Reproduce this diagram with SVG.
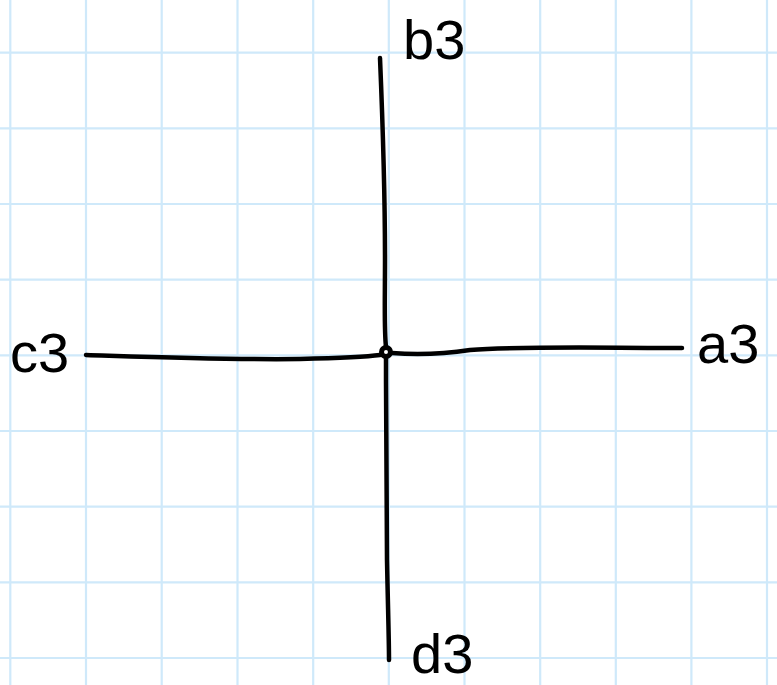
<svg xmlns="http://www.w3.org/2000/svg" width="777" height="685" viewBox="0 0 777 685">
<style>
.grid line{stroke:#cfe9fa;stroke-width:2.2}
.edge{fill:none;stroke:#000;stroke-width:4.5;stroke-linecap:round;stroke-linejoin:round}
.lbl{font-family:"Liberation Sans","DejaVu Sans",sans-serif;font-size:56px;fill:#000}
</style>
<rect width="777" height="685" fill="#fff"/>
<g class="grid">
<line x1="10.3" y1="0" x2="10.3" y2="685"/>
<line x1="86" y1="0" x2="86" y2="685"/>
<line x1="161.7" y1="0" x2="161.7" y2="685"/>
<line x1="237.5" y1="0" x2="237.5" y2="685"/>
<line x1="313.2" y1="0" x2="313.2" y2="685"/>
<line x1="388.8" y1="0" x2="388.8" y2="685"/>
<line x1="464.5" y1="0" x2="464.5" y2="685"/>
<line x1="540.2" y1="0" x2="540.2" y2="685"/>
<line x1="615.8" y1="0" x2="615.8" y2="685"/>
<line x1="691.4" y1="0" x2="691.4" y2="685"/>
<line x1="767" y1="0" x2="767" y2="685"/>
<line x1="0" y1="52.7" x2="777" y2="52.7"/>
<line x1="0" y1="128.3" x2="777" y2="128.3"/>
<line x1="0" y1="204" x2="777" y2="204"/>
<line x1="0" y1="279.7" x2="777" y2="279.7"/>
<line x1="0" y1="355.3" x2="777" y2="355.3"/>
<line x1="0" y1="431" x2="777" y2="431"/>
<line x1="0" y1="506.7" x2="777" y2="506.7"/>
<line x1="0" y1="582.3" x2="777" y2="582.3"/>
<line x1="0" y1="658" x2="777" y2="658"/>
</g>
<g id="connectors">
<path class="edge" d="M380,58 C383,130 385,200 385,260 C385,300 384,330 386,347"/>
<path class="edge" d="M386,357 C386,420 386,480 387,560 C388,610 389,640 389,660"/>
<path class="edge" d="M86,355 C150,357 230,360 300,359 C340,358 365,357 380,355"/>
<path class="edge" d="M392,353 C420,355 450,353 470,350 C520,346 600,348 682,348"/>
</g>
<g id="center">
<circle cx="386" cy="352" r="4.5" fill="none" stroke="#000" stroke-width="5"/>
</g>
<g id="node-a3"><text class="lbl" x="697" y="363">a3</text></g>
<g id="node-b3"><text class="lbl" x="403" y="59">b3</text></g>
<g id="node-c3"><text class="lbl" x="10" y="372">c3</text></g>
<g id="node-d3"><text class="lbl" x="411" y="673">d3</text></g>
</svg>
